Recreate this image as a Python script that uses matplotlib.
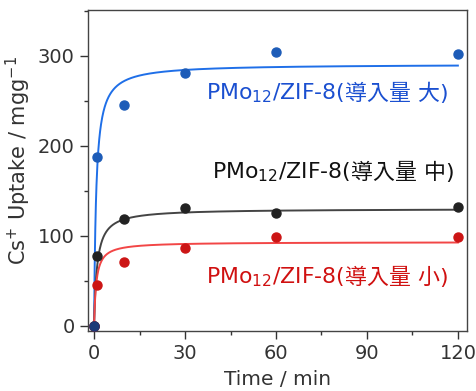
import numpy as np
import matplotlib
matplotlib.use("Agg")
import matplotlib.pyplot as plt
from matplotlib.ticker import MultipleLocator

plt.rcParams['font.family'] = ['DejaVu Sans', 'Noto Sans CJK JP']
plt.rcParams['mathtext.fontset'] = 'dejavusans'

time = [0, 1, 10, 30, 60, 120]
uptake_large = [0, 188, 245, 281, 305, 302]
uptake_mid = [0, 77, 119, 131, 125, 132]
uptake_small = [0, 45, 71, 86, 99, 99]

# pseudo-second-order fit parameters (qe, k)
fit_large = (291, 0.0050)
fit_mid = (130, 0.0078)
fit_small = (93, 0.0150)

labels = ["大", "中", "小"]

fig = plt.figure(figsize=(4.77, 3.91), dpi=100)
ax = fig.add_axes([0.1845, 0.1535, 0.7945, 0.8205])

tt = np.linspace(0, 120, 1200)
def pso(t, qe, k):
    return qe * qe * k * t / (1 + qe * k * t)

series = [
    (uptake_large, fit_large, '#1f6fe8', '#1d5cb8', '#1a4fd0', labels[0], (37, 252)),
    (uptake_mid, fit_mid, '#444444', '#222222', '#111111', labels[1], (39, 164)),
    (uptake_small, fit_small, '#f24646', '#cc1515', '#d01010', labels[2], (37, 46.5)),
]

fs = 15.8
for ys, (qe, k), lc, mc, tc, lab, pos in series:
    ax.plot(tt, pso(tt, qe, k), color=lc, lw=1.4, zorder=2)
    ax.plot(time, ys, 'o', color=mc, ms=6.5, zorder=3)
    t1 = ax.text(pos[0], pos[1], "PMo$_{12}$/ZIF-8(", color=tc, fontsize=fs,
                 va='baseline', ha='left')
    ax.annotate("導入量 " + lab + ")", xy=(1, pos[1]), xycoords=(t1, 'data'),
                xytext=(0.0, -0.5), textcoords='offset points', color=tc, fontsize=fs,
                va='baseline', ha='left')

ax.plot([0], [0], 'o', color='#1c3a78', ms=6.5, zorder=4)

ax.set_xlim(-2, 123)
ax.set_ylim(-6, 351)
ax.xaxis.set_major_locator(MultipleLocator(30))
ax.xaxis.set_minor_locator(MultipleLocator(15))
ax.yaxis.set_major_locator(MultipleLocator(100))
ax.yaxis.set_minor_locator(MultipleLocator(50))
ax.tick_params(which='major', direction='out', length=6, width=1, colors='#333333', labelsize=14, labelcolor='#333333')
ax.tick_params(which='minor', direction='out', length=3, width=1, colors='#333333')
for s in ax.spines.values():
    s.set_color('#444444')
    s.set_linewidth(1.0)

ax.set_xlabel("Time / min", fontsize=14.5, color='#333333', labelpad=5)
ax.set_ylabel("Cs$^{+}$ Uptake / mgg$^{-1}$", fontsize=15, color='#333333')
ax.yaxis.set_label_coords(-0.145, 0.53)

fig.savefig("out.png", dpi=100)
